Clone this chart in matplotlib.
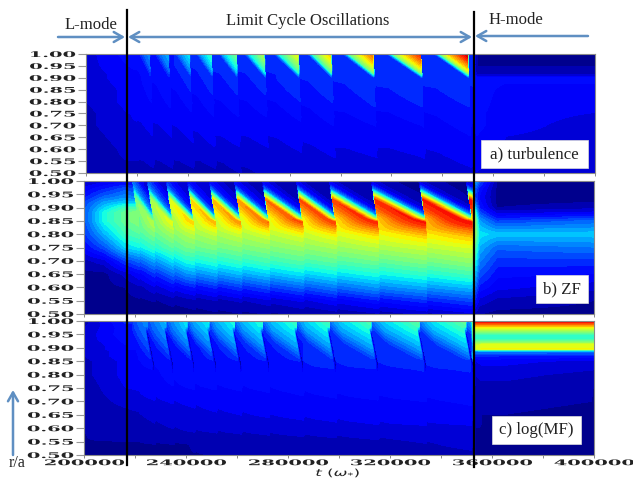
import numpy as np
import matplotlib
matplotlib.use("Agg")
import matplotlib.pyplot as plt
from matplotlib.patches import FancyArrowPatch, Rectangle
from matplotlib.patheffects import AbstractPathEffect
from matplotlib.lines import Line2D
from matplotlib.transforms import Affine2D

W, H = 633, 478

# ---- values (a reduced description, not the source data) ----
# Times at which each oscillation burst starts
bursts = [219000, 224900, 232300, 240600, 249200, 259000, 270000, 283300, 296200, 312700, 331500, 349900]
lco_end = 353000

# a) turbulence: colour value per (time column, radius row); rows above 1 hold the burst wedge
a_r = [.5, .55, .6, .65, .7, .75, .8, .85, .9, .915, .95, 1.0, 1.01, 1.02, 1.04, 1.07, 1.1]
a_t = [200000, 208000, 216000, 232000, 250000, 271000, 297000, 313000, 331000, 352000, 353500, 365000, 400000]
a_z = [
    [.04, .04, .04, .04, .05, .05, .06, .06, .06, .06, .07, .07, .07, .07, .07, .07, .07],
    [.05, .05, .05, .06, .07, .07, .08, .08, .09, .09, .10, .11, .11, .11, .11, .11, .11],
    [.05, .06, .07, .08, .09, .09, .10, .10, .11, .11, .12, .13, .14, .15, .18, .20, .22],
    [.05, .06, .07, .08, .09, .10, .11, .12, .14, .14, .15, .15, .17, .20, .24, .27, .30],
    [.05, .06, .08, .09, .10, .11, .12, .13, .15, .15, .16, .16, .20, .26, .32, .38, .42],
    [.06, .07, .08, .09, .10, .11, .12, .14, .15, .15, .16, .17, .26, .36, .44, .52, .58],
    [.07, .08, .09, .10, .11, .12, .13, .14, .16, .16, .17, .18, .30, .44, .54, .64, .70],
    [.07, .08, .09, .10, .11, .12, .13, .15, .16, .16, .17, .18, .34, .50, .60, .72, .80],
    [.07, .08, .09, .10, .11, .12, .13, .15, .16, .17, .17, .18, .36, .52, .65, .78, .88],
    [.08, .09, .10, .11, .12, .13, .14, .15, .16, .17, .17, .18, .38, .55, .70, .85, .97],
    [.09, .10, .11, .12, .13, .13, .14, .14, .14, .04, .03, .03, .03, .03, .03, .03, .03],
    [.07, .08, .09, .09, .10, .10, .10, .11, .13, .05, .03, .03, .03, .03, .03, .03, .03],
    [.07, .07, .08, .08, .08, .09, .10, .11, .13, .05, .03, .03, .03, .03, .03, .03, .03],
]
a_shift = ([0, .3, 1], [-.01, 0, .10])
a_weight = ([.5, .7, .85, 1], [.3, .6, 1, 1])
a_delay = ([.5, .9, 1], [2000, 500, 0])

# b) ZF
b_r = [.5, .55, .6, .65, .7, .75, .8, .85, .88, .9, .92, .94, .97, 1.0]
b_t = [200000, 208000, 216000, 240000, 280000, 320000, 352000, 353500, 355000, 362000, 400000]
b_z = [
    [.02, .02, .02, .02, .05, .12, .17, .20, .20, .20, .18, .14, .10, .05],
    [.02, .02, .02, .02, .08, .20, .30, .38, .38, .33, .28, .22, .15, .08],
    [.02, .02, .03, .07, .18, .33, .42, .47, .47, .42, .32, .26, .20, .10],
    [.02, .04, .13, .26, .38, .48, .55, .64, .68, .48, .24, .15, .10, .07],
    [.03, .08, .20, .33, .44, .52, .60, .74, .82, .55, .25, .12, .06, .04],
    [.05, .14, .27, .38, .48, .57, .66, .82, .88, .60, .26, .10, .04, .03],
    [.07, .18, .30, .42, .52, .60, .70, .86, .90, .62, .26, .10, .03, .03],
    [.05, .14, .22, .30, .38, .45, .52, .50, .40, .30, .22, .18, .20, .30],
    [.03, .08, .14, .20, .25, .30, .35, .28, .20, .15, .13, .12, .14, .20],
    [.02, .05, .10, .13, .17, .22, .32, .18, .08, .03, .02, .02, .02, .03],
    [.02, .03, .07, .12, .17, .24, .32, .22, .10, .05, .03, .02, .02, .02],
]
b_shift = ([0, 1], [-.05, .05])
b_weight = ([.5, .75, .82, .86, 1], [.1, .12, .3, 1, 1])
b_delay = ([.5, .8, .87, 1], [3000, 2800, 2200, 0])

# c) log(MF)
c_r = [.5, .55, .6, .65, .7, .75, .8, .85, .87, .885, .89, .895, .91, .93, .95, .975, .99, 1.0, 1.05, 1.1, 1.16]
c_t = [200000, 216000, 240000, 280000, 320000, 352000, 353500, 356000, 365000, 400000]
c_z = [
    [.03, .03, .03, .03, .04, .04, .05, .05, .06, .06, .06, .06, .06, .07, .07, .06, .05, .05, .05, .05, .05],
    [.03, .03, .04, .05, .07, .09, .10, .10, .11, .11, .11, .12, .12, .13, .14, .14, .15, .16, .18, .20, .22],
    [.03, .03, .06, .08, .09, .11, .13, .14, .14, .15, .15, .15, .15, .15, .15, .15, .15, .15, .24, .30, .36],
    [.03, .04, .07, .09, .11, .12, .13, .14, .15, .15, .15, .15, .15, .15, .15, .15, .16, .16, .27, .34, .42],
    [.04, .05, .08, .10, .11, .13, .14, .15, .15, .16, .16, .16, .16, .16, .16, .16, .17, .17, .28, .36, .46],
    [.05, .07, .08, .10, .12, .13, .14, .15, .16, .17, .17, .17, .17, .17, .17, .17, .18, .18, .30, .38, .48],
    [.03, .03, .03, .04, .04, .05, .06, .09, .16, .24, .34, .60, .60, .42, .42, .62, .82, .93, .93, .93, .93],
    [.02, .02, .03, .03, .04, .05, .07, .10, .16, .24, .35, .64, .62, .42, .42, .62, .82, .93, .93, .93, .93],
    [.02, .02, .02, .03, .04, .05, .07, .10, .15, .24, .35, .64, .62, .42, .42, .62, .82, .93, .93, .93, .93],
    [.02, .02, .02, .02, .03, .03, .05, .08, .14, .24, .35, .64, .62, .42, .42, .62, .82, .93, .93, .93, .93],
]
c_shift = ([0, .3, 1], [.03, .09, .16])
c_weight = ([.5, .7, .82, .86, 1], [.05, .15, .30, 1, 1])
c_delay = ([.5, .84, .97, 1], [3000, 2800, 0, 0])
# Thin dark line ahead of each burst: time left before the burst -> strength
c_dip_time = ([0, 600, 1100], [.8, .8, 0])
c_dip_r = ([.8, .84, .95, .98], [0, 1, 1, 0])

y_ticks = [.50, .55, .60, .65, .70, .75, .80, .85, .90, .95, 1.00]
y_labels = ["0.50", "0.55", "0.60", "0.65", "0.70", "0.75", "0.80", "0.85", "0.90", "0.95", "1.00"]
x_ticks = [200000, 240000, 280000, 320000, 360000, 400000]
x_labels = ["200000", "240000", "280000", "320000", "360000", "400000"]


# ---- helpers ----
class Stretch(AbstractPathEffect):
    """Widens real text horizontally about its right edge or its centre."""
    def __init__(self, sx, anchor="center"):
        super().__init__()
        self.sx, self.anchor = sx, anchor

    def draw_path(self, renderer, gc, tpath, affine, rgbFace=None):
        v = tpath.vertices[:, 0]
        x0 = v.max() if self.anchor == "right" else (v.min() + v.max()) / 2
        stretch = Affine2D().translate(-x0, 0).scale(self.sx, 1).translate(x0, 0)
        renderer.draw_path(gc, tpath, stretch + affine, rgbFace)


def field(tab_r, tab_t, tab_z, shift, weight, delay, dip_time=None, dip_r=None):
    t = np.linspace(200000, 400000, 700)
    r = np.linspace(.5, 1.0, 260)
    T, R = np.meshgrid(t, r)
    zt = np.array(tab_z)
    cols = np.array([np.interp(t, tab_t, zt[:, i]) for i in range(zt.shape[1])])  # rows x time
    b = np.array(bursts, float)
    Td = T - np.interp(R, *delay)
    idx = np.searchsorted(b, Td, side="right") - 1
    dur = np.diff(b)
    dur = np.append(dur, dur[-1])
    p = (Td - b[np.clip(idx, 0, len(b) - 1)]) / dur[np.clip(idx, 0, len(b) - 1)]
    active = (idx >= 0) & (T < lco_end)
    off = np.where(active, np.interp(p, *shift), 0.0) * np.interp(R, *weight)
    Re = R + off
    Z = np.empty_like(T)
    for j in range(len(t)):
        Z[:, j] = np.interp(Re[:, j], tab_r, cols[:, j])
    if dip_time is not None:
        left = (1 - p) * dur[np.clip(idx, 0, len(b) - 1)]
        d = np.where(active, np.interp(left, *dip_time), 0.0) * np.interp(R, *dip_r)
        Z = Z * (1 - d)
    return t, r, np.clip(Z, 0, 1)


def axes_px(x0, y0, x1, y1):
    return fig.add_axes([x0 / W, 1 - y1 / H, (x1 - x0) / W, (y1 - y0) / H])


def arrow(x0, y0, x1, y1, style):
    fig.add_artist(FancyArrowPatch((x0 / W, 1 - y0 / H), (x1 / W, 1 - y1 / H),
                                   transform=fig.transFigure, arrowstyle=style, mutation_scale=9,
                                   lw=1.8, color="#5f8fc2", shrinkA=0, shrinkB=0))


SERIF = "Liberation Serif"
fig = plt.figure(figsize=(W / 100, H / 100), dpi=100, facecolor="white")

panels = [
    ((86, 54, 595, 173), field(a_r, a_t, a_z, a_shift, a_weight, a_delay), False),
    ((84, 181, 594, 314), field(b_r, b_t, b_z, b_shift, b_weight, b_delay), False),
    ((84, 321, 594, 455), field(c_r, c_t, c_z, c_shift, c_weight, c_delay, c_dip_time, c_dip_r), True),
]
levels = np.linspace(0, 1, 34)
tick_fx = [Stretch(2.5, "right")]
for box, (t, r, Z), show_x in panels:
    ax = axes_px(*box)
    ax.contourf(t, r, Z, levels=levels, cmap="jet", antialiased=False)
    ax.set_xlim(200000, 400000)
    ax.set_ylim(.5, 1.0)
    ax.set_yticks(y_ticks)
    ax.set_yticklabels(y_labels, family="DejaVu Serif", weight="bold", fontsize=5.6, color="#222222")
    for lab in ax.get_yticklabels():
        lab.set_path_effects(tick_fx)
    ax.set_xticks(x_ticks)
    ax.set_xticks([220000, 260000, 300000, 340000, 380000], minor=True)
    ax.tick_params(axis="y", length=6, width=.8, color="#999999", pad=1.5)
    ax.tick_params(axis="x", which="both", length=2, width=.7, color="#888888")
    if show_x:
        ax.set_xticklabels(x_labels, family="DejaVu Serif", weight="bold", fontsize=5.6, color="#222222")
        for lab in ax.get_xticklabels():
            lab.set_path_effects([Stretch(2.5, "center")])
        ax.tick_params(axis="x", pad=1)
    else:
        ax.set_xticklabels([])
    for s in ax.spines.values():
        s.set_color("#8a8a8a")
        s.set_linewidth(.8)

# Panel label boxes
for x0, y0, x1, y1, label in [(481, 140, 588, 168, "a) turbulence"),
                              (536, 275, 588, 303, "b) ZF"),
                              (492, 416, 581, 444, "c) log(MF)")]:
    fig.add_artist(Rectangle((x0 / W, 1 - y1 / H), (x1 - x0) / W, (y1 - y0) / H,
                             transform=fig.transFigure, fc="white", ec="#dddddd", lw=.5, zorder=5))
    fig.text((x0 + x1) / 2 / W, 1 - (y0 + y1) / 2 / H, label, family=SERIF, fontsize=12.2,
             ha="center", va="center", color="#222222", zorder=6)

# Mode boundaries
for x, y0, y1 in [(126.5, 10, 465), (473.5, 12, 467)]:
    fig.add_artist(Line2D([x / W, x / W], [1 - y0 / H, 1 - y1 / H], transform=fig.transFigure,
                          color="black", lw=1.6, zorder=7))

# Annotations
arrow(58, 37, 125, 37, "->,head_length=0.7,head_width=0.4")
arrow(128, 37, 472, 37, "<->,head_length=0.7,head_width=0.4")
arrow(475, 36, 588, 36, "<-,head_length=0.7,head_width=0.4")
arrow(13, 455, 13, 390, "->,head_length=0.7,head_width=0.4")
for x, y, s, fs in [(91, 25, "L-mode", 12), (308, 21, "Limit Cycle Oscillations", 12),
                    (516, 20, "H-mode", 12), (17, 463, "r/a", 11.5)]:
    fig.text(x / W, 1 - y / H, s, family=SERIF, fontsize=fs, ha="center", va="center", color="#222222")
fig.text(338 / W, 1 - 473 / H, r"$t\ (\omega_{*})$", fontsize=7, ha="center", va="center",
         color="#222222", path_effects=[Stretch(1.7, "center")])

fig.savefig("out.png", dpi=100, facecolor="white")
